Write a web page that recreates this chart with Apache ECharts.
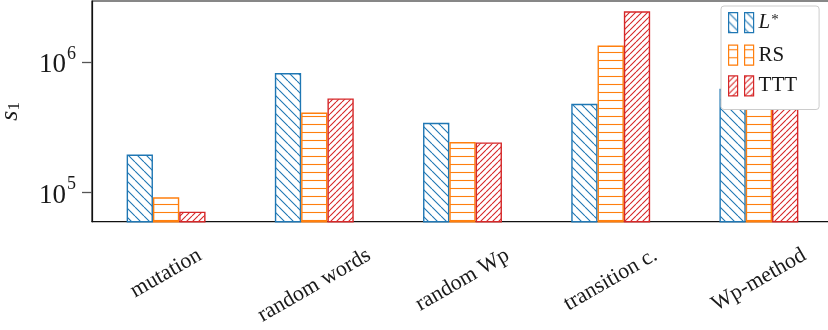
<!DOCTYPE html>
<html>
<head>
<meta charset="utf-8">
<script src="https://cdn.jsdelivr.net/npm/echarts@6/dist/echarts.min.js"></script>
<style>
  html, body { margin: 0; padding: 0; background: #ffffff; }
  #chart { width: 828px; height: 330px; }
</style>
</head>
<body>
<div id="chart"></div>
<script>
// Test-suite generators on the x axis, s1 query counts on a log y axis
const categories = ['mutation', 'random words', 'random Wp', 'transition c.', 'Wp-method'];
const lstarValues = [193600, 819000, 340000, 475000, 620000];
const rsValues    = [91000, 407000, 242000, 1334000, 461000];
const tttValues   = [70600, 523000, 240000, 2440000, 560000];
const yTickValues = [100000, 1000000];
const seriesNames = ['L*', 'RS', 'TTT'];

const SERIF = '"Liberation Serif", "DejaVu Serif", serif';
const X_LABEL_SIZE = 22;
const Y_LABEL_SIZE = 27;

// Hatched fill tiles: white ground with thin coloured strokes
function hatch(kind, color, size) {
  const c = document.createElement('canvas');
  c.width = size; c.height = size;
  const g = c.getContext('2d');
  g.fillStyle = '#ffffff';
  g.fillRect(0, 0, size, size);
  g.strokeStyle = color;
  g.lineWidth = 1.1;
  g.beginPath();
  if (kind === 'h') {
    g.moveTo(0, size / 2 + 0.5); g.lineTo(size, size / 2 + 0.5);
  } else {
    for (let k = -1; k <= 1; k++) {
      if (kind === 'back') { g.moveTo(k * size, 0); g.lineTo(k * size + size, size); }
      else { g.moveTo(k * size, size); g.lineTo(k * size + size, 0); }
    }
  }
  g.stroke();
  return { image: c, repeat: 'repeat' };
}

const BLUE = '#1f77b4', ORANGE = '#ff7f0e', RED = '#d62728';

// Rotated category labels centred under their ticks: shift each label
// down by a quarter of its length so that its top sits on a common line.
const measure = document.createElement('canvas').getContext('2d');
measure.font = X_LABEL_SIZE + 'px ' + SERIF;
const xRich = {};
categories.forEach((name, i) => {
  const len = measure.measureText(name).width;
  const d = len / 4;
  xRich['c' + i] = {
    fontFamily: SERIF,
    fontSize: X_LABEL_SIZE,
    color: '#1a1a1a',
    padding: [2 * d * Math.cos(Math.PI / 6), d, 0, 0]
  };
});

const chart = echarts.init(document.getElementById('chart'), null, { renderer: 'canvas' });

function barSeries(name, values, fill, color) {
  return {
    name: name,
    type: 'bar',
    data: values,
    barWidth: 26.3,
    barGap: '0%',
    clip: true,
    itemStyle: { color: fill, borderColor: color, borderWidth: 1.4 },
    emphasis: { disabled: true }
  };
}

chart.setOption({
  animation: false,
  backgroundColor: '#ffffff',
  grid: {
    left: 92, right: -5, top: 1, bottom: 108.3,
    containLabel: false,
    outerBoundsMode: 'none',
    show: true, borderColor: '#111111', borderWidth: 1.2, backgroundColor: 'transparent'
  },
  legend: {
    orient: 'vertical',
    left: 721, top: 6,
    padding: [6, 22, 13, 7],
    itemGap: 9.5,
    itemWidth: 25, itemHeight: 20,
    itemStyle: { borderWidth: 1.2 },
    icon: 'path://M0,0H9V20H0Z M16,0H25V20H16Z',
    itemTextGap: 5,
    backgroundColor: '#ffffff',
    borderColor: '#cccccc', borderWidth: 1, borderRadius: 3,
    selectedMode: false,
    data: seriesNames,
    formatter: function (n) {
      return n === 'L*' ? '{it|L}{sup|*}' : '{rm|' + n + '}';
    },
    textStyle: {
      fontFamily: SERIF, fontSize: 21, color: '#1a1a1a',
      rich: {
        it: { fontFamily: SERIF, fontStyle: 'italic', fontSize: 21, color: '#1a1a1a' },
        sup: { fontFamily: SERIF, fontSize: 15, color: '#1a1a1a', verticalAlign: 'top', lineHeight: 12, padding: [0, 0, 8, 1] },
        rm: { fontFamily: SERIF, fontSize: 21, color: '#1a1a1a' }
      }
    }
  },
  xAxis: {
    type: 'category',
    data: categories,
    axisLine: { lineStyle: { color: '#111111', width: 1.2 } },
    axisTick: { alignWithLabel: true, length: 9, lineStyle: { color: '#444444', width: 1.2 } },
    axisLabel: {
      rotate: 30,
      align: 'center',
      verticalAlign: 'middle',
      margin: 32,
      interval: 0,
      hideOverlap: false,
      formatter: function (v, i) { return '{c' + i + '|' + v + '}'; },
      rich: xRich
    }
  },
  yAxis: {
    type: 'log',
    logBase: 10,
    min: 59100,
    max: 2930000,
    name: '{s|s}{sub|1}',
    nameLocation: 'middle',
    nameRotate: 90,
    nameGap: 69,
    nameTextStyle: {
      rich: {
        s: { fontFamily: SERIF, fontStyle: 'italic', fontSize: 26, color: '#1a1a1a' },
        sub: { fontFamily: SERIF, fontSize: 17, color: '#1a1a1a', verticalAlign: 'bottom', padding: [9, 0, 0, 0] }
      }
    },
    splitLine: { show: false },
    minorTick: { show: false },
    axisLine: { show: true, lineStyle: { color: '#111111', width: 1.2 } },
    axisTick: { show: true, length: 10, customValues: yTickValues, lineStyle: { color: '#555555', width: 1.3 } },
    axisLabel: {
      customValues: yTickValues,
      margin: 16,
      formatter: function (v) {
        const e = Math.round(Math.log10(v));
        return '{b|10}{e|' + e + '}';
      },
      rich: {
        b: { fontFamily: SERIF, fontSize: Y_LABEL_SIZE, color: '#1a1a1a', padding: [7, 0, 0, 0] },
        e: { fontFamily: SERIF, fontSize: 18, color: '#1a1a1a', verticalAlign: 'top', padding: [0, 0, 12, 1] }
      }
    }
  },
  series: [
    barSeries(seriesNames[0], lstarValues, hatch('back', BLUE, 9), BLUE),
    barSeries(seriesNames[1], rsValues, hatch('h', ORANGE, 8), ORANGE),
    barSeries(seriesNames[2], tttValues, hatch('fwd', RED, 6), RED)
  ]
});
</script>
</body>
</html>
